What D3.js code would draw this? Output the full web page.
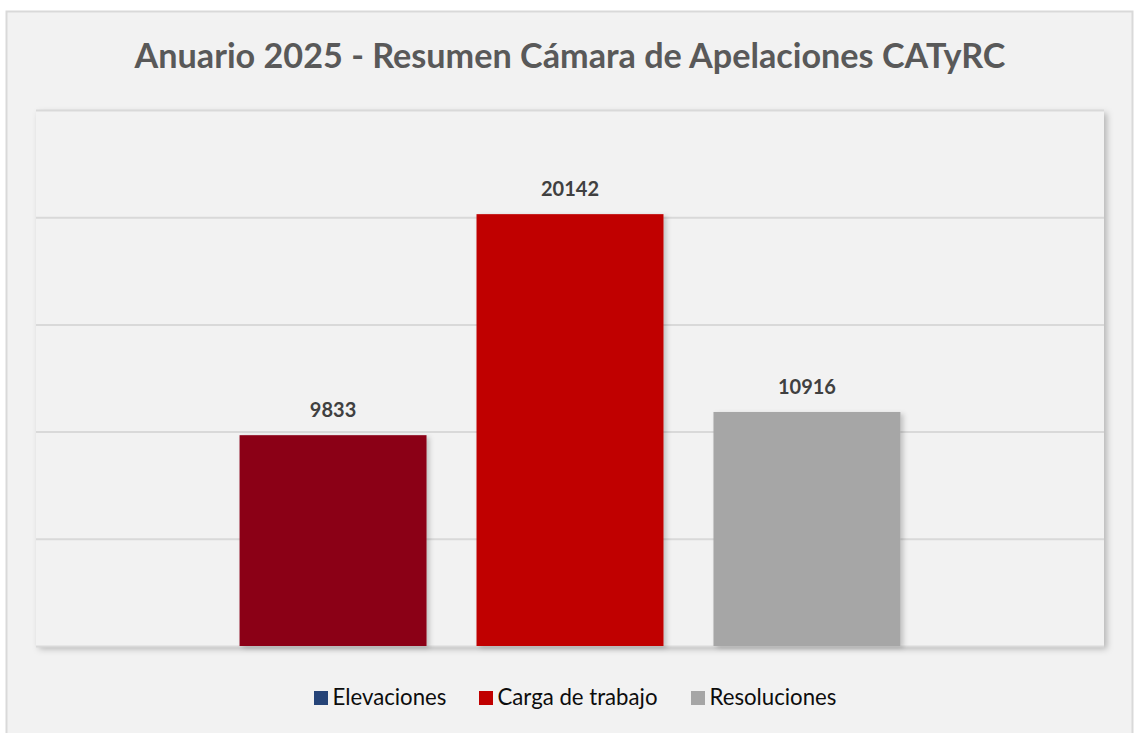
<!DOCTYPE html>
<html><head><meta charset="utf-8">
<script src="https://cdn.jsdelivr.net/npm/d3@7"></script>
<style>html,body{margin:0;padding:0;background:#fff;}svg{display:block;}</style>
</head><body>
<script>
const title = "Anuario 2025 - Resumen Cámara de Apelaciones CATyRC";
const series = ["Elevaciones", "Carga de trabajo", "Resoluciones"];
const values = [9833, 20142, 10916];
const barColors = ["#8b0018", "#c00000", "#a6a6a6"];
const legendColors = ["#264478", "#c00000", "#a6a6a6"];
const yTicks = [0, 5000, 10000, 15000, 20000, 25000];

const W = 1134, H = 733;
const svg = d3.select("body").append("svg").attr("width", W).attr("height", H);
const defs = svg.append("defs");
const f = defs.append("filter").attr("id","sh").attr("x","-5%").attr("y","-5%").attr("width","115%").attr("height","115%");
f.append("feDropShadow").attr("dx",3).attr("dy",3).attr("stdDeviation",3).attr("flood-color","#000").attr("flood-opacity",0.25);
const fb = defs.append("filter").attr("id","bsh").attr("x","-10%").attr("y","-10%").attr("width","130%").attr("height","130%");
fb.append("feDropShadow").attr("dx",3).attr("dy",2).attr("stdDeviation",2.5).attr("flood-color","#000").attr("flood-opacity",0.2);

// chart area
svg.append("rect").attr("x",6.5).attr("y",11.5).attr("width",1126).attr("height",730)
  .attr("fill","#f2f2f2").attr("stroke","#d9d9d9").attr("stroke-width",2);

const m = {left:36, right:1104, top:110, bottom:646};
svg.append("rect").attr("x",m.left).attr("y",m.top).attr("width",m.right-m.left).attr("height",m.bottom-m.top)
  .attr("fill","#f2f2f2").attr("filter","url(#sh)");

const y = d3.scaleLinear().domain([0,25000]).range([m.bottom, m.top]);
const x = d3.scaleBand().domain(series).range([m.left, m.right]).paddingInner(0.211).paddingOuter(0.859);

const grid = svg.append("g")
  .call(d3.axisLeft(y).tickValues(yTicks).tickSize(-(m.right-m.left)).tickFormat(""))
  .attr("transform",`translate(${m.left},0)`);
grid.select(".domain").remove();
grid.selectAll("line").attr("stroke","#d9d9d9").attr("stroke-width",2);

svg.append("g").selectAll("rect").data(values).join("rect")
  .attr("x",(d,i)=>x(series[i])).attr("width",x.bandwidth())
  .attr("y",d=>y(d)).attr("height",d=>y(0)-y(d))
  .attr("fill",(d,i)=>barColors[i]).attr("filter","url(#bsh)");

svg.append("g").selectAll("text").data(values).join("text")
  .attr("x",(d,i)=>x(series[i])+x.bandwidth()/2).attr("y",d=>y(d)-18)
  .attr("text-anchor","middle").attr("font-family","Lato, 'Open Sans', sans-serif")
  .attr("font-weight","bold").attr("font-size",20).attr("fill","#404040").text(d=>d);

svg.append("text").attr("x",570).attr("y",68).attr("text-anchor","middle")
  .attr("font-family","Lato, 'Open Sans', sans-serif").attr("font-weight","bold")
  .attr("font-size",34.2).attr("fill","#595959").text(title);

const legX = [314, 479, 691];
const lg = svg.append("g").selectAll("g").data(series).join("g")
  .attr("transform",(d,i)=>`translate(${legX[i]},691)`);
lg.append("rect").attr("width",14).attr("height",14).attr("fill",(d,i)=>legendColors[i]);
lg.append("text").attr("x",18.5).attr("y",14).attr("font-family","Lato, 'Open Sans', sans-serif")
  .attr("font-size",22.2).attr("fill","#0d0d0d").text(d=>d);
</script>
</body></html>
